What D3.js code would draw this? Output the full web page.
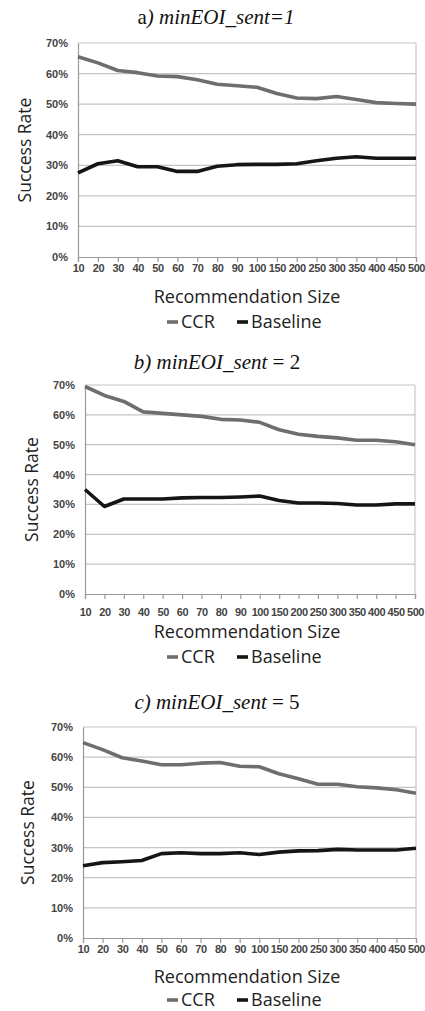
<!DOCTYPE html>
<html><head><meta charset="utf-8">
<script src="https://cdn.jsdelivr.net/npm/d3@7/dist/d3.min.js"></script>
<style>
html,body{margin:0;padding:0;background:#fff;}
svg{display:block;}
</style></head>
<body>
<svg id="chart" width="425" height="1011"></svg>
<script>
const categories = ["10","20","30","40","50","60","70","80","90","100","150","200","250","300","350","400","450","500"];
const yTicks = [0,10,20,30,40,50,60,70];
const seriesNames = ["CCR","Baseline"];

const ccrA = [65.5,63.5,61,60.3,59.2,59,58,56.5,56,55.5,53.5,52,51.8,52.5,51.5,50.5,50.2,50];
const baseA = [27.5,30.5,31.5,29.5,29.5,28,28,29.7,30.2,30.3,30.3,30.5,31.5,32.3,32.8,32.3,32.3,32.3];

const ccrB = [69.5,66.5,64.5,61,60.5,60,59.5,58.5,58.3,57.5,55,53.5,52.8,52.3,51.5,51.5,51,50];
const baseB = [35,29.3,31.8,31.8,31.8,32.2,32.3,32.3,32.5,32.8,31.3,30.5,30.5,30.3,29.8,29.8,30.2,30.2];

const ccrC = [64.8,62.5,59.8,58.7,57.5,57.5,58,58.2,57,56.8,54.5,52.8,51,51,50.2,49.8,49.2,48];
const baseC = [24,25,25.3,25.7,28,28.3,28,28,28.3,27.7,28.5,28.9,29,29.4,29.2,29.2,29.2,29.8];

const titles = [
  [{t:"a",i:false},{t:") minEOI_sent=1",i:true}],
  [{t:"b) minEOI_sent",i:true},{t:" = 2",i:false}],
  [{t:"c) minEOI_sent",i:true},{t:" = 5",i:false}]
];

const panels = [
  {ccr:ccrA, base:baseA, title:titles[0], titleY:24, titleX:216, top:43, bottom:257, left:78, right:416, yTitleX:25, tickY:268, xTitleY:303, legY:322},
  {ccr:ccrB, base:baseB, title:titles[1], titleY:369, titleX:217, top:385, bottom:594, left:85, right:415, yTitleX:32, tickY:612, xTitleY:638, legY:657},
  {ccr:ccrC, base:baseC, title:titles[2], titleY:709, titleX:217, top:727, bottom:938, left:83, right:416, yTitleX:28, tickY:949, xTitleY:983, legY:1000}
];

const svg = d3.select("#chart");
const colors = {CCR:"#6e6e6e", Baseline:"#151515"};

panels.forEach(p => {
  const g = svg.append("g");
  const x = d3.scalePoint().domain(categories).range([p.left, p.right]).padding(0);
  const y = d3.scaleLinear().domain([0,70]).range([p.bottom, p.top]);

  // title
  const tt = g.append("text").attr("x", p.titleX).attr("y", p.titleY)
    .attr("text-anchor","middle")
    .style("font-family","'Liberation Serif','Times New Roman',serif")
    .style("font-size","21px").style("fill","#111");
  p.title.forEach(s => tt.append("tspan").text(s.t).style("font-style", s.i ? "italic" : "normal"));

  // gridlines
  g.append("g").selectAll("line").data(yTicks.filter(d => d > 0)).join("line")
    .attr("x1", p.left).attr("x2", p.right)
    .attr("y1", d => y(d)).attr("y2", d => y(d))
    .attr("stroke","#c4c4c4").attr("stroke-width",1.2);
  // right border
  g.append("line").attr("x1",p.right).attr("x2",p.right).attr("y1",p.top).attr("y2",p.bottom)
    .attr("stroke","#c8c8c8").attr("stroke-width",1.2);

  // y axis
  const ya = d3.axisLeft(y).tickValues(yTicks).tickFormat(d => d + "%").tickSize(0).tickPadding(10);
  const yg = g.append("g").attr("transform", `translate(${p.left},0)`).call(ya);
  yg.select(".domain").attr("stroke","#9a9a9a").attr("stroke-width",1.2);
  yg.selectAll("text").style("font-family","'Liberation Sans',Arial,sans-serif")
    .style("font-size","11px").style("font-weight","bold").style("fill","#444");

  // x axis
  const xa = d3.axisBottom(x).tickSize(5).tickPadding(5);
  const xg = g.append("g").attr("transform", `translate(0,${p.bottom})`).call(xa);
  xg.select(".domain").attr("stroke","#9a9a9a").attr("stroke-width",1.2);
  xg.selectAll(".tick line").attr("stroke","#9a9a9a").attr("stroke-width",1.2);
  xg.selectAll("text").attr("dy",null).attr("y", p.tickY - p.bottom + 4)
    .style("font-family","'Liberation Sans',Arial,sans-serif")
    .style("font-size","11px").style("font-weight","bold").style("fill","#444")
    .style("letter-spacing","-0.4px");

  // y title
  g.append("text").attr("transform", `translate(${p.yTitleX},${(p.top+p.bottom)/2}) rotate(-90)`)
    .attr("text-anchor","middle").attr("dy","0.35em")
    .style("font-family","'Open Sans',sans-serif").style("font-size","17.5px").style("fill","#222")
    .text("Success Rate");

  // x title
  g.append("text").attr("x", 247).attr("y", p.xTitleY).attr("text-anchor","middle")
    .style("font-family","'Open Sans',sans-serif").style("font-size","18px").style("fill","#222")
    .text("Recommendation Size");

  // lines
  const line = d3.line().x((d,i) => x(categories[i])).y(d => y(d)).curve(d3.curveLinear);
  [[p.ccr,"CCR"],[p.base,"Baseline"]].forEach(([vals,name]) => {
    g.append("path").datum(vals).attr("d", line)
      .attr("fill","none").attr("stroke", colors[name]).attr("stroke-width",3.6)
      .attr("stroke-linejoin","round").attr("stroke-linecap","butt");
  });

  // legend
  const leg = g.append("g").attr("transform", `translate(0,${p.legY})`);
  const legPos = [{name:"CCR", mx:167, tx:181},{name:"Baseline", mx:237, tx:251}];
  legPos.forEach(l => {
    leg.append("line").attr("x1", l.mx).attr("x2", l.mx + 11).attr("y1",0).attr("y2",0)
      .attr("stroke", colors[l.name]).attr("stroke-width",3.6);
    leg.append("text").attr("x", l.tx).attr("y",0).attr("dy","0.35em")
      .style("font-family","'Open Sans',sans-serif").style("font-size","18px").style("fill","#222")
      .text(l.name);
  });
});
</script>
</body></html>
